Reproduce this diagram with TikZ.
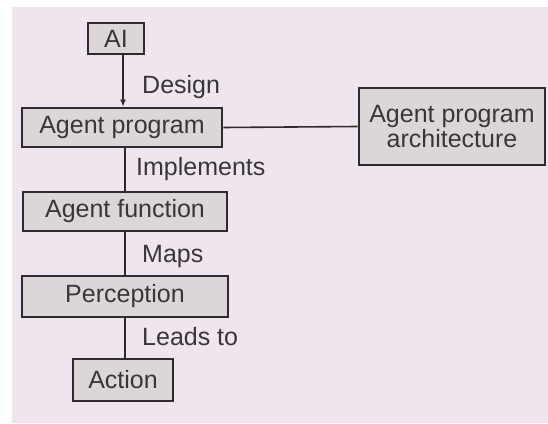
\documentclass[tikz,border=0pt]{standalone}
\usepackage{fontspec}
\setmainfont{Liberation Sans}
\usetikzlibrary{arrows.meta}
\definecolor{bgpink}{HTML}{EEE5EE}
\definecolor{boxfill}{HTML}{DCD6D9}
\definecolor{ink}{HTML}{2E2A2D}
\definecolor{txt}{HTML}{3A3538}
\tikzset{
  blk/.style={draw=ink, line width=2.8pt, fill=boxfill, inner sep=0pt,
    font=\fontsize{25}{28}\selectfont, text=txt, align=center},
  lbl/.style={anchor=west, inner sep=0pt, font=\fontsize{25}{28}\selectfont, text=txt},
  conn/.style={draw=ink, line width=1.6pt}
}
\begin{document}
\begin{tikzpicture}[x=1pt,y=-1pt]
\useasboundingbox (0,0) rectangle (548,423);
\fill[white] (0,0) rectangle (548,423);
\fill[bgpink] (12,7) rectangle (548,423);
\node[blk, minimum width=56pt, minimum height=31pt] (ai) at (116,38.5) {AI};
\node[blk, minimum width=200pt, minimum height=39pt] (prog) at (122,127.5) {Agent program};
\node[blk, minimum width=186pt, minimum height=77pt] (arch) at (452,126.5) {Agent program\\[-3pt]architecture};
\node[blk, minimum width=204pt, minimum height=39pt] (func) at (125,211.5) {Agent function};
\node[blk, minimum width=206pt, minimum height=41pt] (perc) at (125,296.5) {Perception};
\node[blk, minimum width=100pt, minimum height=42pt] (act) at (123,380) {Action};
\draw[conn, -{Latex[length=7pt,width=6pt]}] (ai.south -| 123,0) -- (prog.north -| 123,0);
\draw[conn] (prog.east) -- (arch.west);
\draw[conn] (prog.south -| 125,0) -- (func.north -| 125,0);
\draw[conn] (func.south -| 125,0) -- (perc.north -| 125,0);
\draw[conn] (perc.south -| 125,0) -- (act.north -| 125,0);
\node[lbl] (design) at (142,87) {Design};
\node[lbl] (impl) at (136,169.5) {Implements};
\node[lbl] (maps) at (142,256) {Maps};
\node[lbl] (leads) at (142,337) {Leads to};
\end{tikzpicture}
\end{document}
